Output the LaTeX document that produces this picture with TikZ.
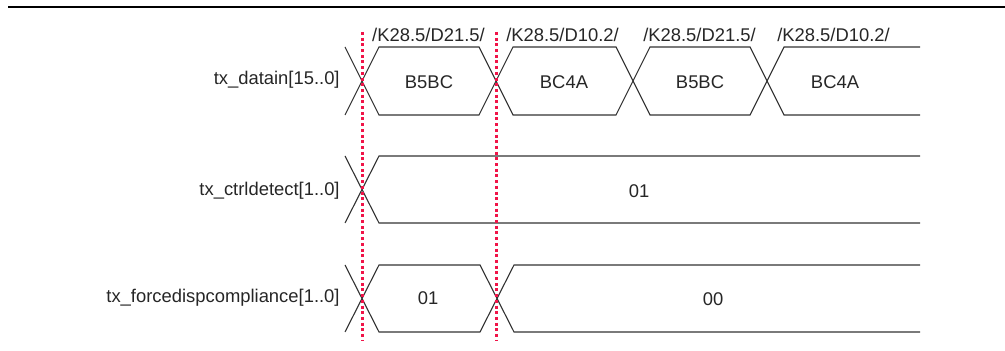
\documentclass[tikz,border=0pt]{standalone}
\usepackage{fontspec}
\setmainfont{Liberation Sans}
\usetikzlibrary{positioning}
\definecolor{markred}{RGB}{240,20,72}
\definecolor{wavegray}{RGB}{50,50,50}

\begin{document}
\begin{tikzpicture}[
        x=0.5pt, y=-0.5pt,
        wave/.style={line width=0.55pt, wavegray, line join=miter},
        marker/.style={line width=1.5pt, markred, dash pattern=on 1.5pt off 1.35pt},
        signame/.style={anchor=east, inner sep=0pt, font=\fontsize{9.2}{11}\selectfont, text=black!85},
        valtxt/.style={inner sep=0pt, font=\fontsize{9.2}{11}\selectfont, text=black!85},
        code/.style={inner sep=0pt, font=\fontsize{9.2}{11}\selectfont, text=black!85}
    ]
        \useasboundingbox (0,0) rectangle (1005,351);

        % Header rule
        \coordinate (ruleL) at (8,7);
        \coordinate (ruleR) at (1005,7);
        \draw[line width=1pt] (ruleL) -- (ruleR);

        % Code groups
        \node[code] (k1) at (428.5,35) {/K28.5/D21.5/};
        \node[code] (k2) at (562.5,35) {/K28.5/D10.2/};
        \node[code] (k3) at (699.5,35) {/K28.5/D21.5/};
        \node[code] (k4) at (833.5,35) {/K28.5/D10.2/};

        % tx_datain
        \node[signame] (datain) at (340,80) {tx\_datain[15..0]};
        \draw[wave] (345,115)--(379,47)--(479,47)--(513,115)--(616,115)--(650,47)--(750,47)--(784,115)--(920,115);
        \draw[wave] (345,47)--(379,115)--(479,115)--(513,47)--(616,47)--(650,115)--(750,115)--(784,47)--(920,47);
        \node[valtxt] (d1) at (429,82) {B5BC};
        \node[valtxt] (d2) at (564,82) {BC4A};
        \node[valtxt] (d3) at (700,82) {B5BC};
        \node[valtxt] (d4) at (835,82) {BC4A};

        % tx_ctrldetect
        \node[signame] (ctrl) at (340,191) {tx\_ctrldetect[1..0]};
        \draw[wave] (345,156)--(379,223)--(920,223);
        \draw[wave] (345,223)--(379,156)--(920,156);
        \node[valtxt] (c1) at (639,191) {01};

        % tx_forcedispcompliance
        \node[signame] (force) at (340,298) {tx\_forcedispcompliance[1..0]};
        \draw[wave] (345,265)--(379,332)--(480,332)--(514,265)--(920,265);
        \draw[wave] (345,332)--(379,265)--(480,265)--(514,332)--(920,332);
        \node[valtxt] (f1) at (428,298) {01};
        \node[valtxt] (f2) at (713,299) {00};

        % Markers
        \coordinate (m1top) at (362,32);
        \coordinate (m1bot) at (362,340);
        \coordinate (m2top) at (496,32);
        \coordinate (m2bot) at (496,340);
        \draw[marker] (m1top) -- (m1bot);
        \draw[marker] (m2top) -- (m2bot);
    \end{tikzpicture}
\end{document}
